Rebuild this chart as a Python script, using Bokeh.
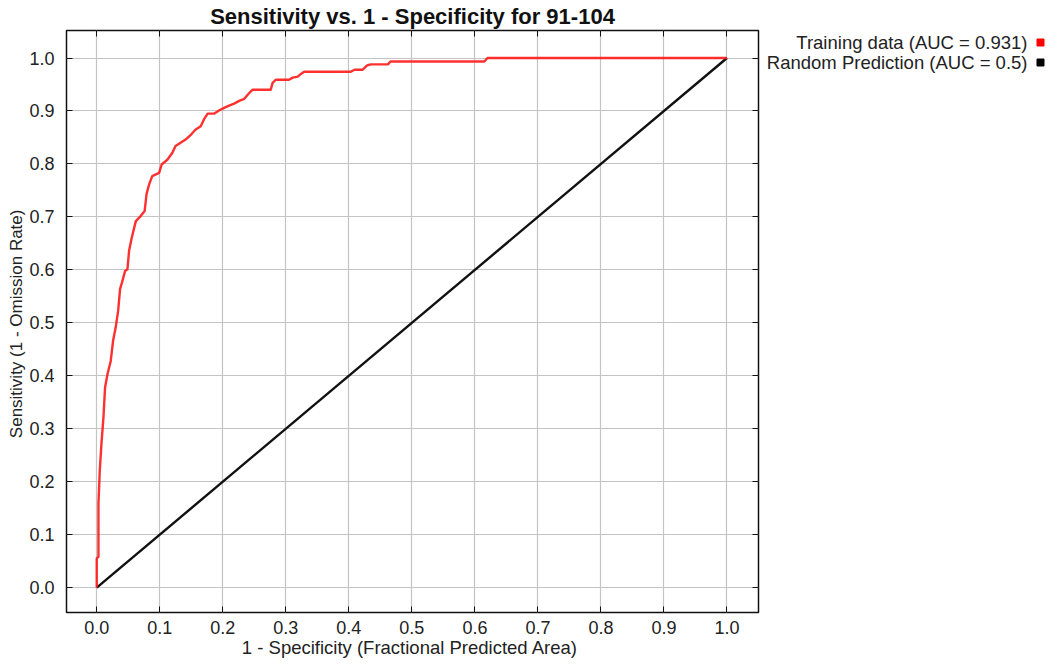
from bokeh.plotting import figure
from bokeh.models import LinearAxis, FixedTicker, Range1d, NumeralTickFormatter
from bokeh.layouts import row
from bokeh.core.properties import value
from bokeh.embed import file_html
from bokeh.resources import INLINE

# ---- data ----
title_text = "Sensitivity vs. 1 - Specificity for 91-104"
x_label = "1 - Specificity  (Fractional Predicted Area)"
y_label = "Sensitivity  (1 - Omission Rate)"
legend_labels = ["Training data (AUC = 0.931)", "Random Prediction (AUC = 0.5)"]
legend_colors = ["#ff0000", "#000000"]
ticks = [0.0, 0.1, 0.2, 0.3, 0.4, 0.5, 0.6, 0.7, 0.8, 0.9, 1.0]

train_fpr = [0.0, 0.0, 0.0027, 0.0027, 0.0048, 0.0074, 0.0106, 0.0132, 0.017, 0.0222,
             0.0259, 0.030, 0.034, 0.037, 0.040, 0.045, 0.0487, 0.0513, 0.0556, 0.062,
             0.070, 0.076, 0.079, 0.083, 0.088, 0.099, 0.103, 0.112, 0.120, 0.125,
             0.133, 0.141, 0.150, 0.157, 0.165, 0.170, 0.176, 0.186, 0.194, 0.202,
             0.210, 0.218, 0.226, 0.234, 0.242, 0.247, 0.276, 0.279, 0.284, 0.305,
             0.311, 0.319, 0.324, 0.329, 0.403, 0.409, 0.422, 0.429, 0.435, 0.462,
             0.466, 0.615, 0.620, 1.0]
train_tpr = [0.0, 0.055, 0.058, 0.158, 0.221, 0.271, 0.321, 0.378, 0.403, 0.428,
             0.466, 0.491, 0.523, 0.564, 0.576, 0.598, 0.601, 0.636, 0.661, 0.692,
             0.702, 0.711, 0.743, 0.761, 0.777, 0.783, 0.799, 0.808, 0.821, 0.834,
             0.840, 0.846, 0.856, 0.865, 0.871, 0.884, 0.895, 0.895, 0.901, 0.906,
             0.910, 0.914, 0.919, 0.923, 0.934, 0.940, 0.940, 0.953, 0.959, 0.959,
             0.963, 0.965, 0.970, 0.974, 0.974, 0.978, 0.978, 0.986, 0.988, 0.988,
             0.9935, 0.9935, 1.0, 1.0]
random_x = [0.0, 1.0]
random_y = [0.0, 1.0]

FONT = "Liberation Sans"
TXT = "#222222"

p = figure(width=764, height=664, output_backend="svg", toolbar_location=None,
           x_range=Range1d(-0.048, 1.05), y_range=Range1d(-0.047, 1.052),
           min_border_left=66, min_border_top=30, min_border_right=6,
           min_border_bottom=52, x_axis_label=x_label, y_axis_label=y_label)

p.title.text = title_text
p.title.align = "center"
p.title.text_font = FONT
p.title.text_font_size = "22px"
p.title.text_font_style = "bold"
p.title.text_color = "#111111"
p.title.standoff = 3
p.title.offset = 0

p.background_fill_color = "white"
p.border_fill_color = "white"
p.outline_line_color = "#111111"
p.outline_line_width = 1.5

for ax in (p.xaxis[0], p.yaxis[0]):
    ax.ticker = FixedTicker(ticks=ticks)
    ax.formatter = NumeralTickFormatter(format="0.0")
    ax.minor_tick_line_color = None
    ax.major_tick_in = 6
    ax.major_tick_out = 0
    ax.major_tick_line_color = "#111111"
    ax.axis_line_color = None
    ax.major_label_text_font = FONT
    ax.major_label_text_font_size = "18px"
    ax.major_label_text_color = TXT
    ax.axis_label_text_font = FONT
    ax.axis_label_text_font_style = "normal"
    ax.axis_label_text_color = TXT
p.xaxis[0].axis_label_text_font_size = "18.5px"
p.yaxis[0].axis_label_text_font_size = "17px"
p.xaxis[0].major_label_standoff = 8
p.xaxis[0].axis_label_standoff = 0
p.yaxis[0].major_label_standoff = 12
p.yaxis[0].axis_label_standoff = 0

for side in ("above", "right"):
    ax = LinearAxis(ticker=FixedTicker(ticks=ticks))
    ax.minor_tick_line_color = None
    ax.major_tick_in = 6
    ax.major_tick_out = 0
    ax.major_tick_line_color = "#111111"
    ax.axis_line_color = None
    ax.major_label_text_font_size = "0px"
    ax.major_label_text_color = None
    ax.major_label_standoff = 0
    p.add_layout(ax, side)

p.xgrid.ticker = FixedTicker(ticks=ticks)
p.ygrid.ticker = FixedTicker(ticks=ticks)
p.grid.grid_line_color = "#c4c4c4"
p.grid.grid_line_width = 1.2

p.line(random_x, random_y, line_color="#111111", line_width=2.4)
p.line(train_fpr, train_tpr, line_color="#ff1a1a", line_width=2.4, line_alpha=0.9)

# ---- legend panel (text right-aligned, colour square on the right) ----
# its frame is aligned with the main frame (rows 30..612), so the range maps page rows
lg = figure(width=286, height=664, output_backend="svg", toolbar_location=None,
            x_range=Range1d(0, 286), y_range=Range1d(612, 30),
            min_border_left=0, min_border_right=0,
            min_border_top=30, min_border_bottom=52)
lg.axis.visible = False
lg.grid.visible = False
lg.outline_line_color = None
lg.background_fill_color = "white"
lg.border_fill_color = "white"

legend_x_text = [263, 263]
legend_x_mark = [276, 276]
legend_y = [42, 62]
lg.text(x=legend_x_text, y=legend_y, text=legend_labels, text_align="right",
        text_baseline="middle", text_font=value(FONT), text_font_size="18.5px",
        text_color=TXT)
lg.scatter(x=legend_x_mark, y=legend_y, marker="square", size=7,
           fill_color=legend_colors, line_color=legend_colors)

open("out.html", "w").write(file_html(row(p, lg), INLINE))
